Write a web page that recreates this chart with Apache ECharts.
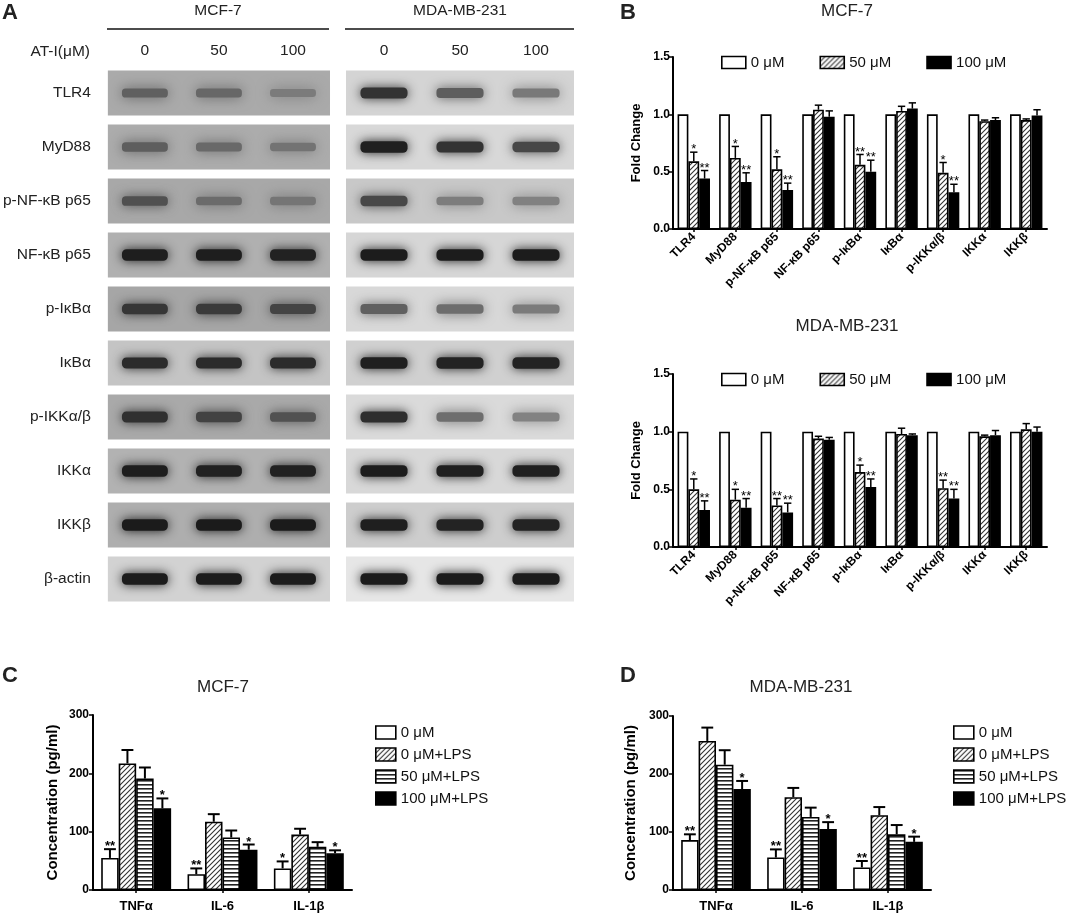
<!DOCTYPE html>
<html>
<head>
<meta charset="utf-8">
<script src="https://cdn.jsdelivr.net/npm/echarts@6/dist/echarts.min.js"></script>
<style>
html, body { margin: 0; padding: 0; background: #fff; }
#chart { width: 1072px; height: 917px; }
</style>
</head>
<body>
<div id="chart"></div>
<script>
// ---- panel A : western blot band darkness (0 = nothing, 1 = black) ----
var blotRows = ['TLR4', 'MyD88', 'p-NF-κB p65', 'NF-κB p65', 'p-IκBα', 'IκBα', 'p-IKKα/β', 'IKKα', 'IKKβ', 'β-actin'];
var doseLanes = ['0', '50', '100'];
var mcfBands = [
    [0.50, 0.45, 0.32],
    [0.52, 0.45, 0.38],
    [0.60, 0.42, 0.35],
    [0.95, 0.95, 0.92],
    [0.78, 0.75, 0.68],
    [0.88, 0.88, 0.88],
    [0.82, 0.70, 0.60],
    [0.95, 0.93, 0.93],
    [0.97, 0.97, 0.97],
    [0.97, 0.97, 0.97]
];
var mdaBands = [
    [0.85, 0.62, 0.48],
    [0.95, 0.85, 0.75],
    [0.72, 0.42, 0.40],
    [0.97, 0.97, 0.97],
    [0.62, 0.55, 0.48],
    [0.95, 0.93, 0.93],
    [0.88, 0.55, 0.45],
    [0.97, 0.95, 0.95],
    [0.95, 0.93, 0.93],
    [0.97, 0.97, 0.97]
];

// ---- panel B : fold change ----
var proteins = ['TLR4', 'MyD88', 'p-NF-κB p65', 'NF-κB p65', 'p-IκBα', 'IκBα', 'p-IKKα/β', 'IKKα', 'IKKβ'];
var doseNames = ['0 μM', '50 μM', '100 μM'];
var fold0 = [1, 1, 1, 1, 1, 1, 1, 1, 1];

var mcfFold50 = [0.59, 0.62, 0.52, 1.04, 0.56, 1.03, 0.49, 0.94, 0.95];
var mcfErr50 = [0.08, 0.10, 0.11, 0.04, 0.09, 0.04, 0.09, 0.01, 0.01];
var mcfSig50 = ['*', '*', '*', '', '**', '', '*', '', ''];
var mcfFold100 = [0.44, 0.41, 0.34, 0.98, 0.50, 1.05, 0.32, 0.95, 0.99];
var mcfErr100 = [0.07, 0.08, 0.06, 0.05, 0.10, 0.05, 0.07, 0.02, 0.05];
var mcfSig100 = ['**', '**', '**', '', '**', '', '**', '', ''];

var mdaFold50 = [0.50, 0.41, 0.36, 0.94, 0.65, 0.98, 0.51, 0.96, 1.02];
var mdaErr50 = [0.09, 0.09, 0.06, 0.02, 0.06, 0.05, 0.07, 0.01, 0.05];
var mdaSig50 = ['*', '*', '**', '', '*', '', '**', '', ''];
var mdaFold100 = [0.32, 0.34, 0.30, 0.93, 0.52, 0.97, 0.42, 0.97, 1.00];
var mdaErr100 = [0.08, 0.08, 0.08, 0.02, 0.07, 0.01, 0.08, 0.04, 0.04];
var mdaSig100 = ['**', '**', '**', '', '**', '', '**', '', ''];

// ---- panels C / D : cytokine concentration (pg/ml) ----
var cytokines = ['TNFα', 'IL-6', 'IL-1β'];
var lpsNames = ['0 μM', '0 μM+LPS', '50 μM+LPS', '100 μM+LPS'];
var mcfConc = [[55, 27, 37], [217, 117, 95], [191, 90, 74], [140, 69, 63]];
var mcfConcErr = [[15, 10, 12], [23, 13, 10], [19, 12, 8], [17, 9, 5]];
var mcfConcSig = [['**', '**', '*'], ['', '', ''], ['', '', ''], ['*', '*', '*']];
var mdaConc = [[86, 56, 39], [257, 160, 129], [216, 126, 96], [174, 105, 83]];
var mdaConcErr = [[10, 14, 11], [23, 16, 14], [25, 16, 16], [14, 12, 9]];
var mdaConcSig = [['**', '**', '**'], ['', '', ''], ['', '', ''], ['*', '*', '*']];

var FONT = '"Liberation Sans", Arial, sans-serif';

// membrane background grey per row
var blotBg = [
    [170, 172, 168, 176, 166, 196, 169, 178, 174, 210],
    [212, 216, 200, 214, 216, 208, 218, 216, 205, 230]
];

//斜线 / 横线填充
function makeTile(kind) {
    var c = document.createElement('canvas');
    var s = kind === 'diag' ? 5 : 4;
    c.width = s;
    c.height = s;
    var ctx = c.getContext('2d');
    ctx.fillStyle = '#fff';
    ctx.fillRect(0, 0, s, s);
    ctx.strokeStyle = '#333';
    ctx.lineWidth = 1.1;
    if (kind === 'diag') {
        ctx.beginPath();
        ctx.moveTo(-1, s + 1); ctx.lineTo(s + 1, -1);
        ctx.moveTo(-1, 1); ctx.lineTo(1, -1);
        ctx.moveTo(s - 1, s + 1); ctx.lineTo(s + 1, s - 1);
        ctx.stroke();
    } else {
        ctx.fillStyle = '#222';
        ctx.fillRect(0, 0, s, 1.6);
    }
    return {image: c, repeat: 'repeat'};
}
var hatchFill = makeTile('diag');
var stripeFill = makeTile('horiz');

var styleWhite = {color: '#fff', borderColor: '#000', borderWidth: 1.6};
var styleHatch = {color: hatchFill, borderColor: '#000', borderWidth: 1.6};
var styleStripe = {color: stripeFill, borderColor: '#000', borderWidth: 1.6};
var styleBlack = {color: '#000', borderColor: '#000', borderWidth: 1.6};

//膜背景
function membraneSeries(gi) {
    return {
        type: 'custom', xAxisIndex: gi, yAxisIndex: gi, z: 1, silent: true,
        data: blotRows.map(function (n, i) { return [1, i]; }),
        renderItem: function (params, api) {
            var c = api.coord([api.value(0), api.value(1)]);
            var h = api.size([1, 1])[1] * 0.83;
            var g = blotBg[gi][api.value(1)];
            return {
                type: 'rect',
                shape: {x: params.coordSys.x, y: c[1] - h / 2, width: params.coordSys.width, height: h},
                style: {fill: 'rgb(' + g + ',' + g + ',' + g + ')'}
            };
        }
    };
}

//条带
function bandSeries(gi, bands) {
    var data = [];
    bands.forEach(function (row, r) {
        row.forEach(function (d, l) { data.push([l, r, d]); });
    });
    return {
        type: 'custom', xAxisIndex: gi, yAxisIndex: gi, z: 2, silent: true,
        data: data,
        renderItem: function (params, api) {
            var c = api.coord([api.value(0), api.value(1)]);
            var sz = api.size([1, 1]);
            var d = api.value(2);
            var bg = blotBg[gi][api.value(1)];
            var g = Math.round(bg * (1 - d) + 22 * d);
            var col = 'rgb(' + g + ',' + g + ',' + g + ')';
            var w = sz[0] * 0.62;
            var h = sz[1] * (0.12 + 0.1 * d);
            return {
                type: 'rect',
                shape: {x: c[0] - w / 2, y: c[1] - h / 2, width: w, height: h, r: h / 2.5},
                style: {fill: col, shadowBlur: 10 + 5 * (1 - d), shadowColor: col}
            };
        }
    };
}

function barSeries(gi, name, vals, style, catGap) {
    return {
        name: name, type: 'bar', xAxisIndex: gi, yAxisIndex: gi,
        data: vals, barGap: '0%', barCategoryGap: catGap,
        itemStyle: style, z: 3, silent: true
    };
}

//误差线 + 显著性
function errSeries(gi, vals, errs, sigs, idx, n, gap, lw, starFont) {
    return {
        type: 'custom', xAxisIndex: gi, yAxisIndex: gi, z: 4, silent: true,
        data: vals.map(function (v, i) { return [i, v, errs[i]]; }),
        renderItem: function (params, api) {
            var band = api.size([1, 0])[0];
            var groupW = band * (1 - gap);
            var bw = groupW / n;
            var base = api.coord([api.value(0), api.value(1)]);
            var x = base[0] - groupW / 2 + bw * (idx + 0.5);
            var yTop = api.coord([api.value(0), api.value(1) + api.value(2)])[1];
            var kids = [];
            if (api.value(2) > 0) {
                kids.push({type: 'line', shape: {x1: x, y1: base[1], x2: x, y2: yTop},
                    style: {stroke: '#000', lineWidth: lw}});
                kids.push({type: 'line', shape: {x1: x - bw * 0.34, y1: yTop, x2: x + bw * 0.34, y2: yTop},
                    style: {stroke: '#000', lineWidth: lw}});
            }
            var s = sigs[params.dataIndex];
            if (s) {
                kids.push({type: 'text', style: {text: s, x: x, y: yTop + 4, align: 'center',
                    verticalAlign: 'bottom', font: starFont, fill: '#000'}});
            }
            return {type: 'group', children: kids};
        }
    };
}

function foldAxis(gi) {
    return {
        type: 'value', gridIndex: gi, min: 0, max: 1.5, interval: 0.5,
        name: 'Fold Change', nameLocation: 'middle', nameGap: 30,
        nameTextStyle: {fontFamily: FONT, fontWeight: 'bold', fontSize: 13, color: '#000'},
        axisLine: {show: true, lineStyle: {color: '#000', width: 2}},
        axisTick: {show: true, length: 4, lineStyle: {color: '#000', width: 1.5}},
        axisLabel: {fontFamily: FONT, fontWeight: 'bold', fontSize: 12, color: '#000', margin: 3,
            formatter: function (v) { return v.toFixed(1); }},
        splitLine: {show: false}
    };
}

function concAxis(gi, gap) {
    return {
        type: 'value', gridIndex: gi, min: 0, max: 300, interval: 100,
        name: 'Concentration (pg/ml)', nameLocation: 'middle', nameGap: gap,
        nameTextStyle: {fontFamily: FONT, fontWeight: 'bold', fontSize: 15, color: '#000'},
        axisLine: {show: true, lineStyle: {color: '#000', width: 2}},
        axisTick: {show: true, length: 4, lineStyle: {color: '#000', width: 1.5}},
        axisLabel: {fontFamily: FONT, fontWeight: 'bold', fontSize: 12, color: '#000', margin: 4},
        splitLine: {show: false}
    };
}

function catAxis(gi, cats, rotate, size, margin) {
    return {
        type: 'category', gridIndex: gi, data: cats,
        axisLine: {show: true, lineStyle: {color: '#000', width: 2}},
        axisTick: {show: true, alignWithLabel: true, length: 3, lineStyle: {color: '#000', width: 1.5}},
        axisLabel: {fontFamily: FONT, fontWeight: 'bold', fontSize: size, color: '#000',
            rotate: rotate, margin: margin, interval: 0}
    };
}

function blotXAxis(gi) {
    return {
        type: 'category', gridIndex: gi, data: doseLanes, position: 'top',
        axisLine: {show: false}, axisTick: {show: false},
        axisLabel: {fontFamily: FONT, fontSize: 15.5, color: '#222', margin: 7}
    };
}

function blotYAxis(gi, showLabel) {
    return {
        type: 'category', gridIndex: gi, data: blotRows, inverse: true,
        axisLine: {show: false}, axisTick: {show: false},
        axisLabel: {show: showLabel, fontFamily: FONT, fontSize: 15.5, color: '#222', margin: 17}
    };
}

function txt(x, y, s, font, align) {
    return {type: 'text', x: x, y: y, silent: true,
        style: {text: s, font: font, fill: '#222', align: align || 'center', verticalAlign: 'middle'}};
}

var bigFont = '17px ' + FONT;
var letterFont = 'bold 22px ' + FONT;
var blotFont = '15.5px ' + FONT;
var starB = '13px ' + FONT;
var starC = 'bold 13px ' + FONT;

var legendText = {fontFamily: FONT, fontSize: 15, color: '#111'};

var series = [
    membraneSeries(0), bandSeries(0, mcfBands),
    membraneSeries(1), bandSeries(1, mdaBands),

    barSeries(2, doseNames[0], fold0, styleWhite, '22%'),
    barSeries(2, doseNames[1], mcfFold50, styleHatch, '22%'),
    barSeries(2, doseNames[2], mcfFold100, styleBlack, '22%'),
    errSeries(2, mcfFold50, mcfErr50, mcfSig50, 1, 3, 0.22, 1.5, starB),
    errSeries(2, mcfFold100, mcfErr100, mcfSig100, 2, 3, 0.22, 1.5, starB),

    barSeries(3, doseNames[0], fold0, styleWhite, '22%'),
    barSeries(3, doseNames[1], mdaFold50, styleHatch, '22%'),
    barSeries(3, doseNames[2], mdaFold100, styleBlack, '22%'),
    errSeries(3, mdaFold50, mdaErr50, mdaSig50, 1, 3, 0.22, 1.5, starB),
    errSeries(3, mdaFold100, mdaErr100, mdaSig100, 2, 3, 0.22, 1.5, starB)
];

var lpsStyles = [styleWhite, styleHatch, styleStripe, styleBlack];
[[4, mcfConc, mcfConcErr, mcfConcSig], [5, mdaConc, mdaConcErr, mdaConcSig]].forEach(function (p) {
    lpsNames.forEach(function (nm, k) {
        series.push(barSeries(p[0], nm, p[1][k], lpsStyles[k], '19%'));
    });
    lpsNames.forEach(function (nm, k) {
        series.push(errSeries(p[0], p[1][k], p[2][k], p[3][k], k, 4, 0.19, 2, starC));
    });
});

var legendItem = {borderColor: '#000', borderWidth: 1.6};

var option = {
    backgroundColor: '#fff',
    animation: false,
    grid: [
        {left: 107, top: 66, width: 223, height: 540},
        {left: 346, top: 66, width: 228, height: 540},
        {left: 673, top: 57, width: 374, height: 172},
        {left: 673, top: 374, width: 374, height: 173},
        {left: 93, top: 715, width: 259, height: 175},
        {left: 673, top: 716, width: 258, height: 174}
    ],
    xAxis: [
        blotXAxis(0), blotXAxis(1),
        catAxis(2, proteins, 45, 12, 6), catAxis(3, proteins, 45, 12, 6),
        catAxis(4, cytokines, 0, 13, 10), catAxis(5, cytokines, 0, 13, 10)
    ],
    yAxis: [
        blotYAxis(0, true), blotYAxis(1, false),
        foldAxis(2), foldAxis(3),
        concAxis(4, 33), concAxis(5, 35)
    ],
    legend: [
        {data: doseNames, left: 716, top: 50, itemWidth: 24, itemHeight: 12, itemGap: 35, icon: 'rect',
            itemStyle: legendItem, textStyle: legendText, selectedMode: false},
        {data: doseNames, left: 716, top: 367, itemWidth: 24, itemHeight: 12, itemGap: 35, icon: 'rect',
            itemStyle: legendItem, textStyle: legendText, selectedMode: false},
        {data: lpsNames, orient: 'vertical', left: 370, top: 720, itemWidth: 20, itemHeight: 13, icon: 'rect',
            itemGap: 7, itemStyle: legendItem, textStyle: legendText, selectedMode: false},
        {data: lpsNames, orient: 'vertical', left: 948, top: 720, itemWidth: 20, itemHeight: 13, icon: 'rect',
            itemGap: 7, itemStyle: legendItem, textStyle: legendText, selectedMode: false}
    ],
    graphic: [
        txt(2, 13, 'A', letterFont, 'left'),
        txt(218, 11, 'MCF-7', blotFont),
        txt(460, 11, 'MDA-MB-231', blotFont),
        {type: 'line', shape: {x1: 107, y1: 29, x2: 329, y2: 29}, style: {stroke: '#111', lineWidth: 1.5}},
        {type: 'line', shape: {x1: 345, y1: 29, x2: 574, y2: 29}, style: {stroke: '#111', lineWidth: 1.5}},
        txt(90, 52, 'AT-I(μM)', blotFont, 'right'),
        txt(620, 13, 'B', letterFont, 'left'),
        txt(847, 11, 'MCF-7', bigFont),
        txt(847, 326, 'MDA-MB-231', bigFont),
        txt(2, 676, 'C', letterFont, 'left'),
        txt(223, 687, 'MCF-7', bigFont),
        txt(620, 676, 'D', letterFont, 'left'),
        txt(801, 687, 'MDA-MB-231', bigFont)
    ],
    series: series
};

var chart = echarts.init(document.getElementById('chart'));
chart.setOption(option);
</script>
</body>
</html>
